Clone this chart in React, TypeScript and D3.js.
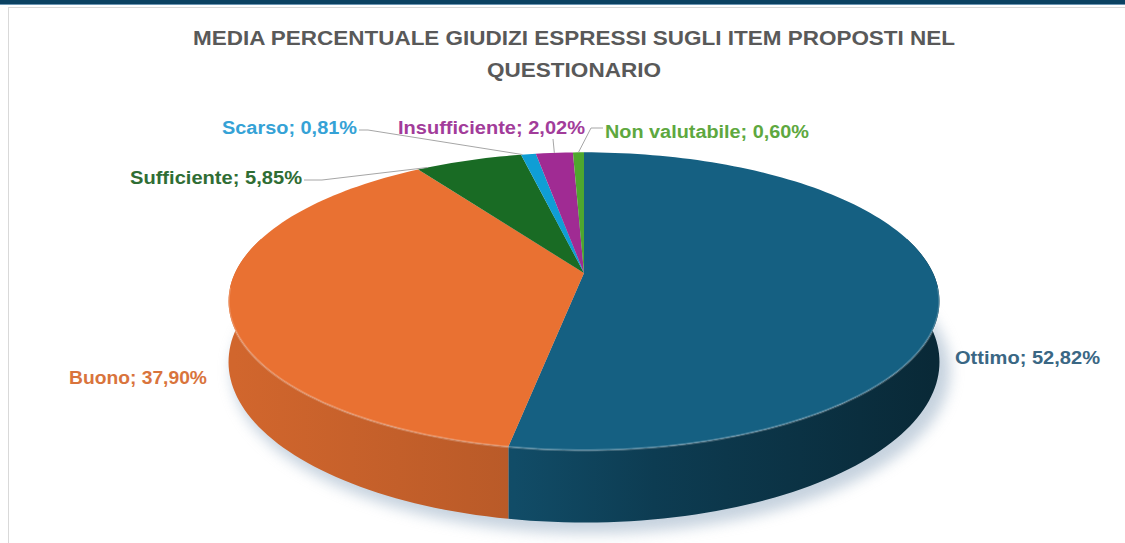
import React from "react";
import * as d3 from "d3";

// data
const categories = ["Ottimo", "Buono", "Sufficiente", "Scarso", "Insufficiente", "Non valutabile"];
const values = [52.82, 37.9, 5.85, 0.81, 2.02, 0.6];
const titleLines = [
  "MEDIA PERCENTUALE GIUDIZI ESPRESSI SUGLI ITEM PROPOSTI NEL",
  "QUESTIONARIO",
];

// styles
const sliceColors = ["#156082", "#E97132", "#196B24", "#0F9ED5", "#A02B93", "#4EA72E"];
const labelColors = ["#3a6784", "#d9743c", "#2f6d34", "#35a2d6", "#a23c9a", "#5ea83f"];

// label layout (text start, baseline, fitted width, leader bend points, where in the slice the leader lands)
const labelLayout: { x: number; y: number; w: number; leader: number[][] | null; at: number }[] = [
  { x: 955, y: 364, w: 145, leader: null, at: 0.5 },
  { x: 69, y: 384, w: 138, leader: null, at: 0.5 },
  { x: 130, y: 184, w: 172, leader: [[304, 180], [322, 180]], at: 0.1 },
  { x: 222, y: 134, w: 135, leader: [[359, 130], [368, 130]], at: 0.1 },
  { x: 398, y: 134, w: 187, leader: [[553, 139]], at: 0.5 },
  { x: 605, y: 138, w: 204, leader: [[603, 128], [591, 128]], at: 0.5 },
];

const W = 1125;
const H = 543;
const cx = 584;
const cy = 273;
const rx = 349;
const ry = 143.6;
const depth = 58.5;
const persp = 0.19;

// project a point of the pie (angle clockwise from 12 o'clock, h = 0 top, 1 bottom)
const pt = (a: number, h = 0, r = 1): [number, number] => {
  const u = Math.sin(a) * r;
  const v = -Math.cos(a) * r;
  const s = 1 / (1 - persp * v);
  return [cx + rx * u * s, cy + (ry * v + depth * h) * s];
};

const fmt = (v: number) => d3.format(".2f")(v).replace(".", ",") + "%";

const sample = (a0: number, a1: number) => {
  const n = Math.max(2, Math.ceil(((a1 - a0) / (2 * Math.PI)) * 240));
  return d3.range(0, n + 1).map((i) => a0 + ((a1 - a0) * i) / n);
};

export default function App() {
  const arcs = d3.pie<number>().sort(null).value((d) => d)(values);

  const topPath = (a0: number, a1: number) =>
    d3.line()([[cx, cy], ...sample(a0, a1).map((a) => pt(a))]) + "Z";

  // outer wall, front part only (a little past the sides so the silhouette closes)
  const sidePath = (a0: number, a1: number) => {
    const s = Math.max(a0, Math.PI / 2 - 0.25);
    const e = Math.min(a1, (3 * Math.PI) / 2 + 0.25);
    if (s >= e) return null;
    const steps = sample(s, e);
    const top = steps.map((a) => pt(a));
    const bottom = steps.slice().reverse().map((a) => pt(a, 1));
    return d3.line()([...top, ...bottom]) + "Z";
  };

  const shadowPath = d3.line()(sample(0, 2 * Math.PI).map((a) => pt(a, 1.05, 1.01))) + "Z";
  const edgeArc = d3.line()(sample(Math.PI / 2 + 0.1, (3 * Math.PI) / 2 - 0.1).map((a) => pt(a)));

  return (
    <svg
      width={W}
      height={H}
      style={{ position: "absolute", left: 0, top: 0, background: "#fff" }}
      fontFamily="'Liberation Sans', Arial, sans-serif"
    >
      <defs>
        <filter id="shadow" x="-20%" y="-20%" width="140%" height="140%">
          <feGaussianBlur stdDeviation="7" />
        </filter>
        {sliceColors.map((c, i) => {
          const base = d3.color(c)!;
          return (
            <linearGradient
              key={i}
              id={`side${i}`}
              gradientUnits="userSpaceOnUse"
              x1={cx - rx}
              x2={cx + rx}
              y1={0}
              y2={0}
            >
              <stop offset="0" stopColor={base.darker(0.3).formatHex()} />
              <stop offset="0.4" stopColor={base.darker(0.65).formatHex()} />
              <stop offset="0.6" stopColor={base.darker(1.3).formatHex()} />
              <stop offset="1" stopColor={base.darker(2.4).formatHex()} />
            </linearGradient>
          );
        })}
      </defs>

      <rect x={0} y={0} width={W} height={4} fill="#0b4262" />
      <rect x={0} y={4} width={W} height={1} fill="#6c96b3" />
      <rect x={8.5} y={7.5} width={W + 20} height={H + 20} fill="#fff" stroke="#d9d9d9" />

      {titleLines.map((t, i) => (
        <text
          key={i}
          x={574}
          y={45 + i * 32}
          textAnchor="middle"
          fontSize={21}
          fontWeight="bold"
          fill="#595959"
          textLength={i === 0 ? 762 : 174}
          lengthAdjust="spacingAndGlyphs"
        >
          {t}
        </text>
      ))}

      <path d={shadowPath} transform="translate(7,5)" fill="#98aec4" opacity={0.55} filter="url(#shadow)" />

      {arcs.map((a, i) => {
        const d = sidePath(a.startAngle, a.endAngle);
        return d ? <path key={`s${i}`} d={d} fill={`url(#side${i})`} /> : null;
      })}

      {arcs.map((a, i) => (
        <path key={`t${i}`} d={topPath(a.startAngle, a.endAngle)} fill={sliceColors[i]} />
      ))}

      <path d={edgeArc!} fill="none" stroke="#fff" strokeOpacity={0.2} strokeWidth={2.5} />

      {arcs.map((a, i) => {
        const lay = labelLayout[i];
        if (!lay.leader) return null;
        const end = pt(a.startAngle + (a.endAngle - a.startAngle) * lay.at);
        return (
          <polyline
            key={`l${i}`}
            points={[...lay.leader, end].map((p) => p.join(",")).join(" ")}
            fill="none"
            stroke="#a6a6a6"
            strokeWidth={1}
          />
        );
      })}

      {categories.map((c, i) => {
        const lay = labelLayout[i];
        return (
          <text
            key={`x${i}`}
            x={lay.x}
            y={lay.y}
            fontSize={18}
            fontWeight="bold"
            fill={labelColors[i]}
            textLength={lay.w}
            lengthAdjust="spacingAndGlyphs"
          >
            {`${c}; ${fmt(values[i])}`}
          </text>
        );
      })}
    </svg>
  );
}
